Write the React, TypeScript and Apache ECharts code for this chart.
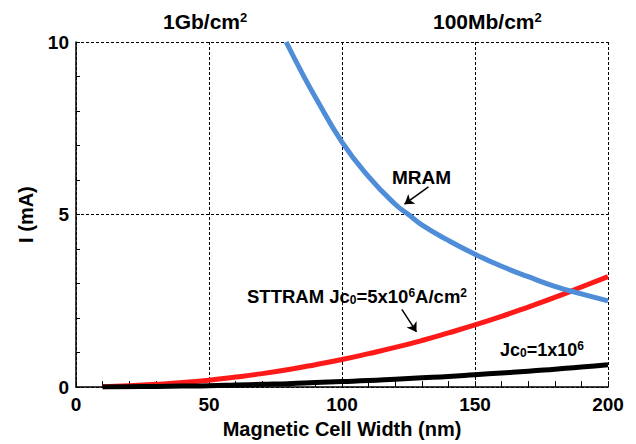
import React, { useEffect, useRef } from "react";
import * as echarts from "echarts";

const widths = [10, 20, 30, 40, 50, 60, 70, 80, 90, 100, 110, 120, 130, 140, 150, 160, 170, 180, 190, 200];
const sttramValues = [0.01, 0.04, 0.08, 0.13, 0.2, 0.29, 0.39, 0.51, 0.65, 0.8, 0.97, 1.15, 1.35, 1.57, 1.8, 2.05, 2.32, 2.6, 2.9, 3.2];
const jc1Values = [0.0, 0.01, 0.02, 0.03, 0.04, 0.06, 0.08, 0.1, 0.13, 0.16, 0.19, 0.23, 0.27, 0.31, 0.36, 0.41, 0.46, 0.52, 0.58, 0.65];
const mramWidths = [79, 85, 90, 100, 110, 120, 125, 130, 140, 150, 160, 170, 180, 190, 200];
const mramValues = [10, 9.1, 8.4, 7.1, 6.1, 5.3, 5.0, 4.7, 4.25, 3.85, 3.5, 3.2, 2.92, 2.7, 2.5];
const xTicks = [0, 50, 100, 150, 200];
const yTicks = [0, 5, 10];
const topLabels = ["1Gb/cm", "100Mb/cm"];

const FONT = "'Liberation Sans', Arial, sans-serif";

export default function App() {
  const ref = useRef<HTMLDivElement>(null);
  useEffect(() => {
    if (!ref.current) return;
    const chart = echarts.init(ref.current, null, { renderer: "svg" });
    const pair = (xs: number[], ys: number[]) => xs.map((x, i) => [x, ys[i]]);
    const supRich = (size: number, sub: number) => ({
      a: { font: `bold ${size}px ${FONT}`, fill: "#000" },
      b: { font: `bold ${sub}px ${FONT}`, fill: "#000", verticalAlign: "bottom", padding: [6, 0, 0, 0] },
      c: { font: `bold ${sub}px ${FONT}`, fill: "#000", verticalAlign: "top", padding: [0, 0, 7, 0] },
    });
    chart.setOption({
      animation: false,
      backgroundColor: "#ffffff",
      grid: { left: 76, right: 28, top: 42, bottom: 53 },
      xAxis: {
        type: "value",
        min: xTicks[0],
        max: xTicks[xTicks.length - 1],
        interval: 50,
        name: "Magnetic Cell Width (nm)",
        nameLocation: "middle",
        nameGap: 31,
        nameTextStyle: { fontFamily: FONT, fontWeight: "bold", fontSize: 20, color: "#000" },
        axisLine: { show: true, lineStyle: { color: "#000", width: 1.5 } },
        axisTick: { show: true, inside: true, length: 6, lineStyle: { color: "#000" } },
        minorTick: { show: true, splitNumber: 5, length: 6, lineStyle: { color: "#000" } },
        axisLabel: { fontFamily: FONT, fontWeight: "bold", fontSize: 19, color: "#000", margin: 8 },
        splitLine: { show: true, lineStyle: { color: "#000", type: [3, 2], width: 1 } },
      },
      yAxis: {
        type: "value",
        min: yTicks[0],
        max: yTicks[yTicks.length - 1],
        interval: 5,
        name: "I (mA)",
        nameLocation: "middle",
        nameGap: 40,
        nameRotate: 90,
        nameTextStyle: { fontFamily: FONT, fontWeight: "bold", fontSize: 20, color: "#000" },
        axisLine: { show: true, lineStyle: { color: "#000", width: 1.5 } },
        axisTick: { show: true, inside: true, length: 4, lineStyle: { color: "#000" } },
        minorTick: { show: true, splitNumber: 5, length: 4, lineStyle: { color: "#000" } },
        axisLabel: { fontFamily: FONT, fontWeight: "bold", fontSize: 19, color: "#000", margin: 7 },
        splitLine: { show: true, lineStyle: { color: "#000", type: [3, 2], width: 1 } },
      },
      series: [
        {
          name: "MRAM",
          type: "line",
          data: pair(mramWidths, mramValues),
          smooth: true,
          showSymbol: false,
          lineStyle: { color: "#4f8dd8", width: 5 },
          z: 3,
          markLine: {
            silent: true,
            symbol: ["none", "arrow"],
            symbolSize: 9,
            label: { show: false },
            lineStyle: { color: "#000", width: 1.5, type: "solid" },
            data: [[{ coord: [132.5, 5.8] }, { coord: [123.5, 5.3] }]],
          },
        },
        {
          name: "STTRAM",
          type: "line",
          data: pair(widths, sttramValues),
          smooth: true,
          showSymbol: false,
          lineStyle: { color: "#ff1a1a", width: 5 },
          z: 2,
          markLine: {
            silent: true,
            symbol: ["none", "arrow"],
            symbolSize: 9,
            label: { show: false },
            lineStyle: { color: "#000", width: 1.5, type: "solid" },
            data: [[{ coord: [122.5, 2.25] }, { coord: [128, 1.6] }]],
          },
        },
        {
          name: "Jc0=1x10^6",
          type: "line",
          data: pair(widths, jc1Values),
          smooth: true,
          showSymbol: false,
          lineStyle: { color: "#000", width: 5 },
          z: 2,
        },
      ],
      graphic: [
        {
          type: "text",
          left: 163,
          top: 11,
          style: { text: `{a|${topLabels[0]}}{c|2}`, rich: supRich(21, 13) },
        },
        {
          type: "text",
          left: 433,
          top: 11,
          style: { text: `{a|${topLabels[1]}}{c|2}`, rich: supRich(21, 13) },
        },
        {
          type: "text",
          left: 392,
          top: 168,
          style: { text: "MRAM", font: `bold 19px ${FONT}`, fill: "#000" },
        },
        {
          type: "text",
          left: 247,
          top: 287,
          style: {
            text: "{a|STTRAM Jc}{b|0}{a|=5x10}{c|6}{a|A/cm}{c|2}",
            rich: supRich(18.5, 12),
          },
        },
        {
          type: "text",
          left: 500,
          top: 340,
          style: {
            text: "{a|Jc}{b|0}{a|=1x10}{c|6}",
            rich: supRich(18, 12),
          },
        },
      ],
    });
    return () => chart.dispose();
  }, []);
  return (
    <div
      ref={ref}
      style={{ position: "fixed", left: 0, top: 0, width: 636, height: 444 }}
    />
  );
}
